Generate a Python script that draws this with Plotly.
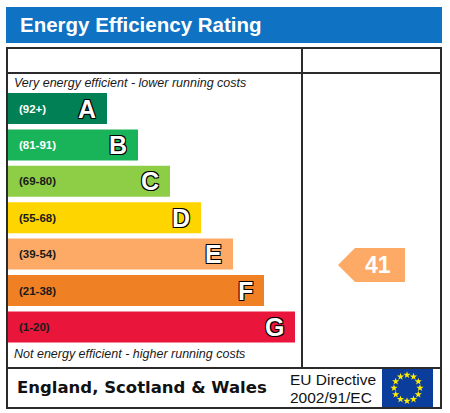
"""
Energy Efficiency Rating (EPC) chart rebuilt with plotly.
"""
import plotly.graph_objects as go

W, H = 450, 413

# chart data
bands = ["A", "B", "C", "D", "E", "F", "G"]
band_ranges = ["(92+)", "(81-91)", "(69-80)", "(55-68)", "(39-54)", "(21-38)", "(1-20)"]
bar_lengths = [99, 130, 162, 193, 225, 256, 287]
band_colors = ["#008054", "#19b459", "#8dce46", "#ffd500", "#fcaa65", "#ef8023", "#e9153b"]
range_text_colors = ["#ffffff", "#ffffff", "#1a1a1a", "#1a1a1a", "#1a1a1a", "#1a1a1a", "#1a1a1a"]
current_score = 41
current_band = "E"

# layout constants (pixels)
BAR_X0 = 8
FIRST_CENTER = 108.5
PITCH = 36.4
BAR_H = 31
LINE = "#2b2b2b"
FONT = "Liberation Sans, Arial, sans-serif"
OUTLINE = "-1px -1px 0 #000, 1px -1px 0 #000, -1px 1px 0 #000, 1px 1px 0 #000"


def idx_to_px(i):
    return FIRST_CENTER + i * PITCH


fig = go.Figure()

idx = list(range(len(bands)))
fig.add_trace(
    go.Bar(
        y=idx,
        x=bar_lengths,
        base=BAR_X0,
        orientation="h",
        width=BAR_H / PITCH,
        marker=dict(color=band_colors, line=dict(width=0)),
        hoverinfo="skip",
        showlegend=False,
    )
)

annotations = []
for i, (b, r, ln, tc) in enumerate(zip(bands, band_ranges, bar_lengths, range_text_colors)):
    annotations.append(dict(
        x=17, y=i, xref="x", yref="y", text=r, showarrow=False, xanchor="left", yanchor="middle",
        font=dict(family=FONT, size=11.5, color=tc, weight="bold"),
    ))
    annotations.append(dict(
        x=BAR_X0 + ln - 9, y=i, xref="x", yref="y", text=b, showarrow=False, xanchor="right", yanchor="middle",
        font=dict(family=FONT, size=25, color="#ffffff", weight="bold", shadow=OUTLINE),
    ))

# current rating arrow, placed within its band by score
lo, hi = [int(v) for v in band_ranges[bands.index(current_band)].strip("()").split("-")]
arrow_cy = idx_to_px(bands.index(current_band)) + (hi - current_score) / (hi - lo) * PITCH - 0.5 * PITCH - 2.5
ah = 17
fig.add_trace(
    go.Scatter(
        x=[338, 355, 405, 405, 355, 338],
        y=[arrow_cy, arrow_cy - ah, arrow_cy - ah, arrow_cy + ah, arrow_cy + ah, arrow_cy],
        yaxis="y2",
        mode="lines",
        fill="toself",
        fillcolor=band_colors[bands.index(current_band)],
        line=dict(width=0),
        hoverinfo="skip",
        showlegend=False,
    )
)
annotations.append(dict(
    x=378, y=arrow_cy, xref="x", yref="y2", text=str(current_score), showarrow=False,
    font=dict(family=FONT, size=23, color="#ffffff", weight="bold"),
))

# EU flag stars
star_x = [407.0, 413.5, 418.3, 420.0, 418.3, 413.5, 407.0, 400.5, 395.7, 394.0, 395.7, 400.5]
star_y = [375.0, 376.7, 381.5, 388.0, 394.5, 399.3, 401.0, 399.3, 394.5, 388.0, 381.5, 376.7]
fig.add_trace(
    go.Scatter(
        x=star_x, y=star_y, yaxis="y2", mode="markers",
        marker=dict(symbol="star", size=5.5, color="#ffed00", line=dict(width=0)),
        hoverinfo="skip", showlegend=False,
    )
)


def px(x, y):
    return x / W, 1 - y / H


def rect(x0, y0, x1, y1, **kw):
    a, b = px(x0, y0)
    c, d = px(x1, y1)
    return dict(type="rect", xref="paper", yref="paper", x0=a, y0=d, x1=c, y1=b, **kw)


def hline(x0, x1, y):
    a, b = px(x0, y)
    c, _ = px(x1, y)
    return dict(type="line", xref="paper", yref="paper", x0=a, y0=b, x1=c, y1=b, line=dict(color=LINE, width=2))


def vline(x, y0, y1):
    a, b = px(x, y0)
    _, d = px(x, y1)
    return dict(type="line", xref="paper", yref="paper", x0=a, y0=b, x1=a, y1=d, line=dict(color=LINE, width=2))


shapes = [
    rect(6, 7, 442, 43, fillcolor="#0f72c3", line=dict(width=0), layer="below"),
    rect(7, 48, 441, 408, fillcolor="rgba(0,0,0,0)", line=dict(color=LINE, width=2)),
    hline(7, 441, 73),
    hline(7, 441, 368),
    vline(302, 48, 368),
    rect(382, 369, 433, 407, fillcolor="#0a3d9c", line=dict(width=0), layer="below"),
]


def text_px(x, y, s, size, anchor="left", **font):
    a, b = px(x, y)
    return dict(x=a, y=b, xref="paper", yref="paper", text=s, showarrow=False, xanchor=anchor,
                yanchor="middle", font=dict(size=size, **font))


annotations += [
    text_px(18, 25, "Energy Efficiency Rating", 20.5, color="#ffffff", family=FONT, weight="bold"),
    text_px(12, 83, "<i>Very energy efficient - lower running costs</i>", 12.5, color="#1a1a1a", family=FONT),
    text_px(12, 354, "<i>Not energy efficient - higher running costs</i>", 12.5, color="#1a1a1a", family=FONT),
    text_px(15, 387, "England, Scotland &amp; Wales", 16.5, color="#111111",
            family="DejaVu Sans, Verdana, sans-serif", weight="bold"),
    text_px(288, 379, "EU Directive", 15.5, color="#111111", family=FONT),
    text_px(288, 397, "2002/91/EC", 15.5, color="#111111", family=FONT),
]

fig.update_layout(
    width=W,
    height=H,
    margin=dict(l=0, r=0, t=0, b=0),
    paper_bgcolor="#ffffff",
    plot_bgcolor="#ffffff",
    xaxis=dict(range=[0, W], visible=False, fixedrange=True),
    yaxis=dict(range=[(H - FIRST_CENTER) / PITCH, -FIRST_CENTER / PITCH], visible=False, fixedrange=True),
    yaxis2=dict(range=[H, 0], overlaying="y", visible=False, fixedrange=True),
    shapes=shapes,
    annotations=annotations,
    showlegend=False,
)

fig.write_html("out.html", config={"displayModeBar": False},
               post_script="document.body.style.margin='0';")
